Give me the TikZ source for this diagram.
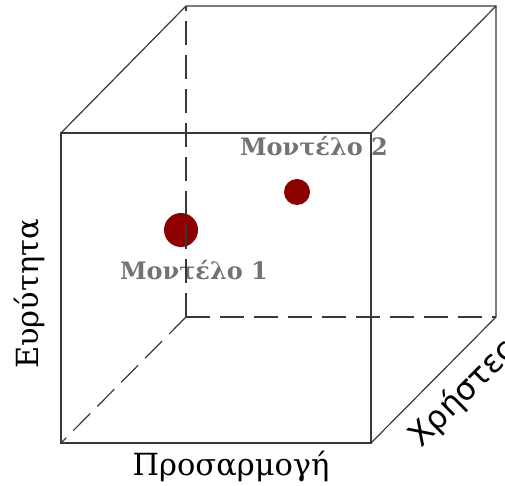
\documentclass[tikz,border=0pt]{standalone}
\usepackage{fontspec}
\setmainfont{DejaVu Serif}
\newfontfamily\sansgr{DejaVu Sans}
\begin{document}
\begin{tikzpicture}[x=1pt,y=1pt,
  edge/.style={draw=black!78, line width=1.2pt},
  hidden/.style={edge, dash pattern=on 24pt off 10pt},
  dot/.style={circle, fill=red!55!black, draw=none, inner sep=0pt},
  mlabel/.style={text=black!55, font=\bfseries\fontsize{24}{28}\selectfont, inner sep=0pt},
  axis/.style={font=\fontsize{30.5}{36}\selectfont, inner sep=0pt}]
\useasboundingbox (0,0) rectangle (505,486);
\coordinate (F1) at (61,43);
\coordinate (F2) at (371,43);
\coordinate (F3) at (371,353);
\coordinate (F4) at (61,353);
\coordinate (B1) at (186,169);
\coordinate (B2) at (496,169);
\coordinate (B3) at (496,480);
\coordinate (B4) at (186,480);
% points and labels
\node[dot, minimum size=34pt] (m1) at (181,256) {};
\node[dot, minimum size=26pt] (m2) at (297,294) {};
\node[mlabel, anchor=base] (l1) at (194,206) {Μοντέλο 1};
\node[mlabel, anchor=base] (l2) at (314,330) {Μοντέλο 2};
% axis labels
\node[axis, anchor=base] (xl) at (231,10) {Προσαρμογή};
\node[axis, rotate=90, anchor=base] (yl) at (38,192) {Ευρύτητα};
\node[axis, font=\sansgr\fontsize{32}{38}\selectfont, rotate=45, anchor=base] (zl) at (470,86) {Χρήστες};
% hidden edges
\draw[hidden] (B1) -- (B4);
\draw[hidden] (B1) -- (B2);
\draw[hidden] (B1) -- (F1);
% visible edges
\draw[edge] (F1) -- (F2) -- (F3) -- (F4) -- cycle;
\draw[edge] (F4) -- (B4) -- (B3) -- (B2) -- (F2);
\draw[edge] (F3) -- (B3);
\end{tikzpicture}
\end{document}
